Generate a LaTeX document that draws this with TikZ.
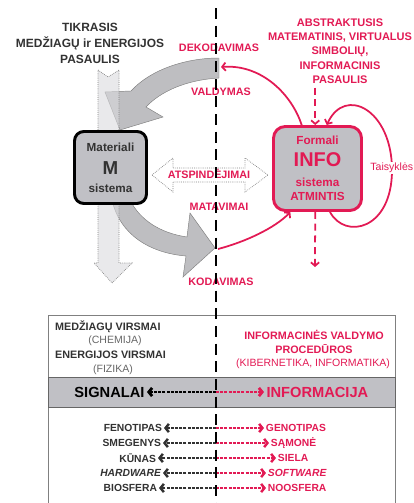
\documentclass[tikz,border=0pt]{standalone}
\usepackage{fontspec}
\setmainfont{Liberation Sans}
\usepackage{tikz}
\usetikzlibrary{arrows.meta}

\definecolor{infored}{RGB}{226,26,84}
\definecolor{boxgray}{RGB}{192,192,197}
\definecolor{arrowgray}{RGB}{190,190,193}
\definecolor{palegray}{RGB}{218,218,221}
\definecolor{inkgray}{RGB}{50,50,50}

\begin{document}
\begin{tikzpicture}[x=0.03cm, y=-0.03cm,
		redlbl/.style={font=\fontsize{9.2}{11}\selectfont\bfseries, text=infored, inner sep=1pt},
		pairleft/.style={font=\fontsize{8.8}{10}\selectfont\bfseries, text=inkgray, anchor=east, inner sep=1.5pt},
		pairright/.style={pairleft, text=infored, anchor=west},
		blackdash/.style={draw=inkgray, line width=2.1pt, dash pattern=on 2.6pt off 1pt, -{Straight Barb[length=2.8pt, width=7pt]}},
		reddash/.style={blackdash, draw=infored},
		redarr/.style={draw=infored, line width=1.5pt, -{Straight Barb[length=3pt, width=7pt]}},
		bigarrow/.style={fill=arrowgray, draw=gray, line width=0.4pt},
		ghostarrow/.style={fill=palegray, fill opacity=0.6, draw=gray, densely dotted, line width=0.6pt}]
	\useasboundingbox (0,0) rectangle (413,503);

	% titles
	\node[font=\fontsize{10.2}{13.7}\selectfont\bfseries, text=inkgray, align=center] (real) at (90,43) {TIKRASIS\\MEDŽIAGŲ ir ENERGIJOS\\PASAULIS};
	\node[font=\fontsize{9.4}{12.2}\selectfont\bfseries, text=infored, align=center] (abstr) at (340,51) {ABSTRAKTUSIS\\MATEMATINIS, VIRTUALUS\\SIMBOLIŲ,\\INFORMACINIS\\PASAULIS};

	% big gray arrows
	\draw[bigarrow] (219,58) .. controls (185,58) and (150,70) .. (131,91) -- (105,92) -- (120,130) -- (163,117) -- (146,107) .. controls (160,92) and (185,80) .. (219,78) -- cycle;
	\draw[bigarrow] (112,200) .. controls (120,235) and (150,253) .. (186,256) -- (183,277) -- (215,248) -- (190,213) -- (187,237) .. controls (160,233) and (140,220) .. (130,200) -- cycle;
	\draw[ghostarrow] (98,70) -- (108,77) -- (119,70) -- (119,263) -- (132,263) -- (112,283) -- (94,263) -- (98,263) -- cycle;

	% systems
	\node[draw=black, line width=2.5pt, fill=boxgray, rounded corners=8pt, minimum width=2.16cm, minimum height=2.16cm, inner sep=0pt,
		align=center, text=inkgray, font=\fontsize{10}{12}\selectfont\bfseries] (msys) at (110.5,167.5)
		{Materiali\\[8pt]{\fontsize{16}{16}\selectfont M}\\[3pt]sistema};
	\node[draw=infored, line width=2.5pt, fill=boxgray, rounded corners=10pt, minimum width=2.64cm, minimum height=2.52cm, inner sep=0pt,
		align=center, text=infored, font=\fontsize{10}{12.5}\selectfont\bfseries] (info) at (317.5,168.5)
		{Formali\\[6pt]{\fontsize{17}{17}\selectfont INFO}\\[4.5pt]sistema\\ATMINTIS};

	% reflections
	\draw[fill=white, draw=gray, densely dotted, line width=0.6pt] (152,175) -- (173,158) -- (173,168) -- (245,168) -- (245,158) -- (268,175) -- (245,192) -- (245,182) -- (173,182) -- (173,192) -- cycle;

	% red connectors
	\coordinate (dek) at (221,67);
	\coordinate (kod) at (218,249);
	\coordinate (infoout) at (315,267);
	\draw[redarr] (info.110) .. controls (292,95) and (262,64) .. (dek);
	\draw[redarr] (kod) .. controls (245,242) and (275,228) .. (info.238);
	\draw[redarr, dash pattern=on 6pt off 4pt] (info.93 |- abstr.south) -- (info.93);
	\draw[redarr, dash pattern=on 6pt off 4pt] (info.267) -- (infoout);
	\draw[redarr] (info.286) .. controls (345,240) and (392,230) .. (392,170) .. controls (392,110) and (345,85) .. (info.78);
	\node[font=\fontsize{9}{11}\selectfont, text=infored, fill=white, anchor=west, inner sep=1pt] (taisy) at (369,168) {Taisyklės};

	% labels
	\node[redlbl] (dekl) at (219,48) {DEKODAVIMAS};
	\node[redlbl] (vald) at (221,92) {VALDYMAS};
	\node[redlbl] (atsp) at (209,174) {ATSPINDĖJIMAI};
	\node[redlbl] (mat) at (219,207) {MATAVIMAI};
	\node[redlbl] (kodl) at (221,282) {KODAVIMAS};

	% lower panel
	\draw[draw=gray, line width=0.8pt] (48,315) rectangle (395,520);
	\node[font=\fontsize{9.2}{11}\selectfont\bfseries, text=inkgray, anchor=west] (medz) at (51,327) {MEDŽIAGŲ VIRSMAI};
	\node[font=\fontsize{9}{11}\selectfont, text=gray!80!black] (chem) at (115,341) {(CHEMIJA)};
	\node[font=\fontsize{9.2}{11}\selectfont\bfseries, text=inkgray, anchor=west] (energ) at (51,355) {ENERGIJOS VIRSMAI};
	\node[font=\fontsize{9}{11}\selectfont, text=gray!80!black] (fiz) at (113,370) {(FIZIKA)};
	\node[font=\fontsize{9.2}{12}\selectfont\bfseries, text=infored, align=center] (proc) at (314,342) {INFORMACINĖS VALDYMO\\PROCEDŪROS};
	\node[font=\fontsize{9}{11}\selectfont, text=infored] (kib) at (313,364) {(KIBERNETIKA, INFORMATIKA)};

	\draw[fill=boxgray, draw=gray!80!black, line width=0.8pt] (48,377) rectangle (395,407);
	\coordinate (mid) at (216,392);
	\node[font=\fontsize{12.5}{14}\selectfont\bfseries, text=black, anchor=east, inner sep=2pt] (sig) at (147,392) {SIGNALAI};
	\node[font=\fontsize{12.5}{14}\selectfont\bfseries, text=infored, anchor=west, inner sep=2pt] (infor) at (264,392) {INFORMACIJA};
	\draw[blackdash, draw=black, line width=2.4pt] (mid) -- (sig);
	\draw[reddash, line width=2.4pt] (mid) -- (infor);

	\foreach \y/\lt/\lx/\rt/\rx [count=\i] in {428/FENOTIPAS/164/GENOTIPAS/264, 443/SMEGENYS/163/SĄMONĖ/269,
			458/KŪNAS/158/SIELA/276, 473/\itshape HARDWARE/163/\itshape SOFTWARE/266, 488/BIOSFERA/159/NOOSFERA/266}{
		\node[pairleft] (l\i) at (\lx,\y) {\lt};
		\node[pairright] (r\i) at (\rx,\y) {\rt};
		\coordinate (c\i) at (216,\y);
		\draw[blackdash] (c\i) -- (l\i);
		\draw[reddash] (c\i) -- (r\i);
	}

	% border line
	\coordinate (axtop) at (216,8);
	\coordinate (axbot) at (216,503);
	\draw[line width=2.4pt, dash pattern=on 0.33cm off 0.2cm] (axtop) -- (axbot);
\end{tikzpicture}
\end{document}
